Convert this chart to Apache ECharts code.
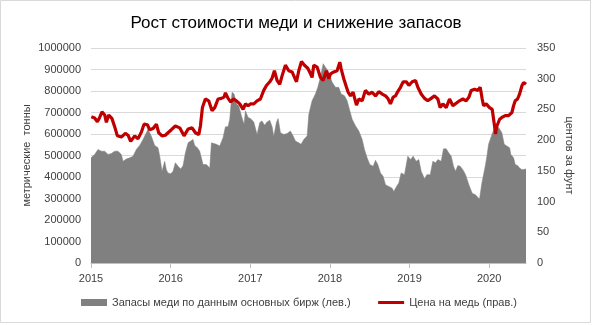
<!DOCTYPE html>
<html><head><meta charset="utf-8">
<script src="https://cdn.jsdelivr.net/npm/echarts@6/dist/echarts.min.js"></script>
<style>html,body{margin:0;padding:0;background:#fff}#c{width:592px;height:325px}</style>
</head><body><div id="c"></div>
<script>
const titleText = 'Рост стоимости меди и снижение запасов';
const yearTicks = [2015, 2016, 2017, 2018, 2019, 2020];
const leftAxisName = 'метрические  тонны';
const rightAxisName = 'центов за фунт';
const stockName = 'Запасы меди по данным основных бирж (лев.)';
const priceName = 'Цена на медь (прав.)';

const stockYears = [2015.0,2015.013,2015.046,2015.088,2015.130,2015.172,2015.214,2015.255,2015.297,2015.339,2015.381,2015.402,2015.444,2015.486,2015.528,2015.569,2015.611,2015.653,2015.695,2015.716,2015.758,2015.800,2015.842,2015.863,2015.892,2015.925,2015.946,2015.967,
2016.001,2016.030,2016.059,2016.093,2016.127,2016.156,2016.185,2016.219,2016.252,2016.281,2016.302,2016.336,2016.365,2016.407,2016.449,2016.491,2016.512,2016.533,2016.575,2016.616,2016.658,2016.688,2016.721,2016.742,2016.771,2016.797,2016.826,2016.855,2016.889,2016.922,2016.939,2016.972,
2017.002,2017.044,2017.085,2017.119,2017.148,2017.178,2017.211,2017.245,2017.274,2017.295,2017.328,2017.349,2017.379,2017.421,2017.462,2017.504,2017.538,2017.567,2017.609,2017.638,2017.672,2017.714,2017.735,2017.776,2017.818,2017.848,2017.881,2017.915,2017.944,2017.973,
2018.006,2018.028,2018.070,2018.111,2018.141,2018.183,2018.216,2018.250,2018.279,2018.321,2018.363,2018.405,2018.434,2018.467,2018.501,2018.543,2018.572,2018.601,2018.635,2018.668,2018.698,2018.740,2018.781,2018.802,2018.836,2018.865,2018.894,2018.936,2018.961,2018.978,
2019.012,2019.045,2019.083,2019.116,2019.146,2019.188,2019.217,2019.259,2019.292,2019.326,2019.355,2019.397,2019.426,2019.460,2019.493,2019.523,2019.552,2019.577,2019.606,2019.636,2019.669,2019.703,2019.745,2019.786,2019.828,2019.878,2019.908,2019.929,2019.950,2019.971,2019.992,
2020.013,2020.034,2020.063,2020.088,2020.118,2020.138,2020.159,2020.189,2020.222,2020.256,2020.272,2020.306,2020.327,2020.356,2020.381,2020.412,2020.433,2020.462];
const stockValues = [489000,489000,505000,528000,520000,520000,505000,509000,520000,520000,505000,473000,484000,489000,497000,528000,547000,575000,606000,622000,590000,547000,536000,497000,427000,473000,434000,419000,
415000,427000,466000,450000,437000,453000,512000,559000,567000,575000,547000,536000,520000,458000,458000,442000,559000,567000,552000,544000,583000,634000,634000,669000,794000,786000,739000,731000,684000,645000,708000,677000,
672000,656000,598000,653000,661000,641000,656000,664000,634000,588000,653000,672000,606000,598000,602000,614000,591000,567000,559000,552000,575000,591000,692000,755000,786000,817000,864000,927000,911000,895000,
864000,841000,817000,817000,786000,778000,755000,708000,669000,638000,614000,575000,528000,489000,458000,450000,478000,458000,419000,403000,364000,356000,348000,333000,356000,372000,419000,411000,403000,497000,
481000,497000,473000,481000,427000,391000,411000,411000,473000,466000,481000,473000,531000,531000,512000,497000,450000,427000,453000,450000,434000,411000,364000,325000,317000,297000,372000,364000,450000,497000,552000,
575000,598000,625000,598000,630000,622000,606000,552000,544000,536000,505000,489000,458000,453000,442000,434000,442000,437000];

const priceYears = [2015.004,2015.046,2015.080,2015.109,2015.138,2015.172,2015.193,2015.222,2015.264,2015.297,2015.331,2015.381,2015.431,2015.465,2015.498,2015.549,2015.590,2015.632,2015.666,2015.708,2015.737,2015.779,2015.821,2015.850,2015.892,2015.934,2015.967,
2016.009,2016.059,2016.114,2016.168,2016.219,2016.269,2016.311,2016.353,2016.374,2016.399,2016.436,2016.478,2016.520,2016.554,2016.595,2016.637,2016.671,2016.688,2016.721,2016.755,2016.788,2016.826,2016.868,2016.910,2016.939,2016.972,
2017.002,2017.044,2017.085,2017.127,2017.169,2017.203,2017.245,2017.274,2017.303,2017.337,2017.370,2017.400,2017.441,2017.483,2017.525,2017.580,2017.609,2017.643,2017.680,2017.722,2017.756,2017.776,2017.797,2017.839,2017.881,2017.915,2017.956,2017.986,
2018.007,2018.049,2018.090,2018.124,2018.141,2018.174,2018.208,2018.229,2018.258,2018.291,2018.333,2018.363,2018.405,2018.446,2018.488,2018.530,2018.572,2018.614,2018.656,2018.698,2018.727,2018.760,2018.794,2018.823,2018.852,2018.886,2018.920,2018.961,2018.991,
2019.033,2019.075,2019.104,2019.146,2019.188,2019.229,2019.271,2019.313,2019.355,2019.384,2019.418,2019.460,2019.502,2019.544,2019.585,2019.627,2019.669,2019.711,2019.745,2019.774,2019.816,2019.858,2019.887,2019.912,2019.929,2019.962,
2020.004,2020.038,2020.067,2020.080,2020.097,2020.131,2020.159,2020.201,2020.243,2020.285,2020.306,2020.327,2020.356,2020.381,2020.412,2020.433,2020.462];
const priceValues = [238,236,230,237,246,241,229,241,235,222,207,205,211,208,198,207,202,213,226,225,217,219,226,212,207,208,212,
217,223,220,207,218,220,212,209,223,253,267,264,248,253,267,268,270,277,268,262,267,264,259,250,259,256,
259,259,264,267,281,289,295,301,313,297,291,305,322,313,311,295,313,328,322,317,308,302,322,319,302,297,313,300,
308,311,313,327,316,300,286,278,272,278,257,267,264,281,275,278,272,279,275,272,268,259,270,272,279,286,295,295,289,
295,297,286,275,268,264,268,272,267,253,259,253,267,256,260,264,267,264,270,281,283,281,286,267,256,259,
253,250,223,210,223,234,237,240,240,245,256,264,267,275,289,294,291];

const stockData = stockYears.map((x, i) => [x, stockValues[i]]);
const priceData = priceYears.map((x, i) => [x, priceValues[i]]);

const FONT = 'Liberation Sans';
const chart = echarts.init(document.getElementById('c'), null, {renderer: 'canvas'});
chart.setOption({
  animation: false,
  backgroundColor: '#fff',
  textStyle: {fontFamily: FONT},
  title: {text: titleText, left: 'center', top: 10,
    textStyle: {fontFamily: FONT, fontSize: 17, fontWeight: 'normal', color: '#000'}},
  graphic: [{type: 'rect', shape: {x: 0.5, y: 0.5, width: 590, height: 322},
    style: {fill: 'none', stroke: '#d9d9d9', lineWidth: 1}, silent: true}],
  grid: {left: 91, right: 66, top: 48, bottom: 62},
  legend: {
    bottom: 12, left: 76, itemGap: 26, itemWidth: 26, itemHeight: 7,
    textStyle: {fontFamily: FONT, fontSize: 11, color: '#404040'},
    data: [{name: stockName, icon: 'rect'},
           {name: priceName, itemStyle: {opacity: 0}, lineStyle: {width: 3, color: '#c00000'}}]
  },
  xAxis: {
    type: 'value', min: 2015, max: 2020.462, interval: 1,
    axisLine: {lineStyle: {color: '#bfbfbf'}},
    axisTick: {show: true, length: 5, lineStyle: {color: '#bfbfbf'}},
    splitLine: {show: false},
    axisLabel: {fontSize: 11, color: '#404040', margin: 10, showMaxLabel: false,
      formatter: v => yearTicks.includes(Math.round(v)) ? String(Math.round(v)) : ''}
  },
  yAxis: [{
    type: 'value', min: 0, max: 1000000, interval: 100000, position: 'left',
    name: leftAxisName, nameLocation: 'middle', nameGap: 59, nameRotate: 90, nameMoveOverlap: false,
    nameTextStyle: {fontSize: 11, color: '#404040'},
    axisLine: {show: false}, axisTick: {show: false},
    splitLine: {lineStyle: {color: '#d9d9d9'}},
    axisLabel: {fontSize: 11, color: '#404040', margin: 10, formatter: v => String(v)}
  }, {
    type: 'value', min: 0, max: 350, interval: 50, position: 'right',
    name: rightAxisName, nameLocation: 'middle', nameGap: 38, nameRotate: -90, nameMoveOverlap: false,
    nameTextStyle: {fontSize: 11, color: '#404040'},
    axisLine: {show: false}, axisTick: {show: false}, splitLine: {show: false},
    axisLabel: {fontSize: 11, color: '#404040', margin: 11}
  }],
  series: [{
    name: stockName, type: 'line', yAxisIndex: 0, data: stockData,
    symbol: 'none', showSymbol: false, color: '#808080',
    lineStyle: {width: 0.5, color: '#808080'},
    areaStyle: {color: '#808080', opacity: 1}, z: 1
  }, {
    name: priceName, type: 'line', yAxisIndex: 1, data: priceData,
    symbol: 'none', showSymbol: false, color: '#c00000',
    lineStyle: {width: 3.2, color: '#c00000'}, z: 3
  }]
});
</script></body></html>
